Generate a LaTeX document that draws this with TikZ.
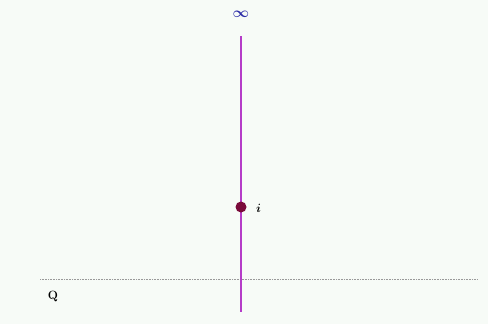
\documentclass[tikz,border=0pt]{standalone}
\usepackage{amsmath,amssymb}
\definecolor{bgc}{HTML}{F7FBF7}
\definecolor{linec}{HTML}{B53CC8}
\definecolor{dotc}{HTML}{7A0A3A}
\definecolor{infc}{HTML}{2E2EA8}
\tikzset{
  lbl/.style={inner sep=0pt},
}
\begin{document}
\begin{tikzpicture}[x=1pt,y=-1pt]
\fill[bgc] (0,0) rectangle (488,324);
\useasboundingbox (0,0) rectangle (488,324);
\coordinate (top) at (241,36);
\coordinate (bot) at (241,312);
\coordinate (ql) at (40,279);
\coordinate (qr) at (478,279);
\draw[gray!80, dash pattern=on 0.8pt off 0.8pt, line width=0.9pt] (ql) -- (qr);
\draw[linec, line width=1.6pt] (top) -- (bot);
\node[circle, fill=dotc, minimum size=11pt, inner sep=0pt] (p) at (241,207) {};
\node[lbl, anchor=west, font=\large\bfseries] (i) at (256,208) {$\boldsymbol{i}$};
\node[lbl, text=infc, font=\fontsize{15}{18}\selectfont] (inf) at (241,14) {$\boldsymbol{\infty}$};
\node[lbl, font=\large\bfseries] (q) at (53,296) {Q};
\end{tikzpicture}
\end{document}
